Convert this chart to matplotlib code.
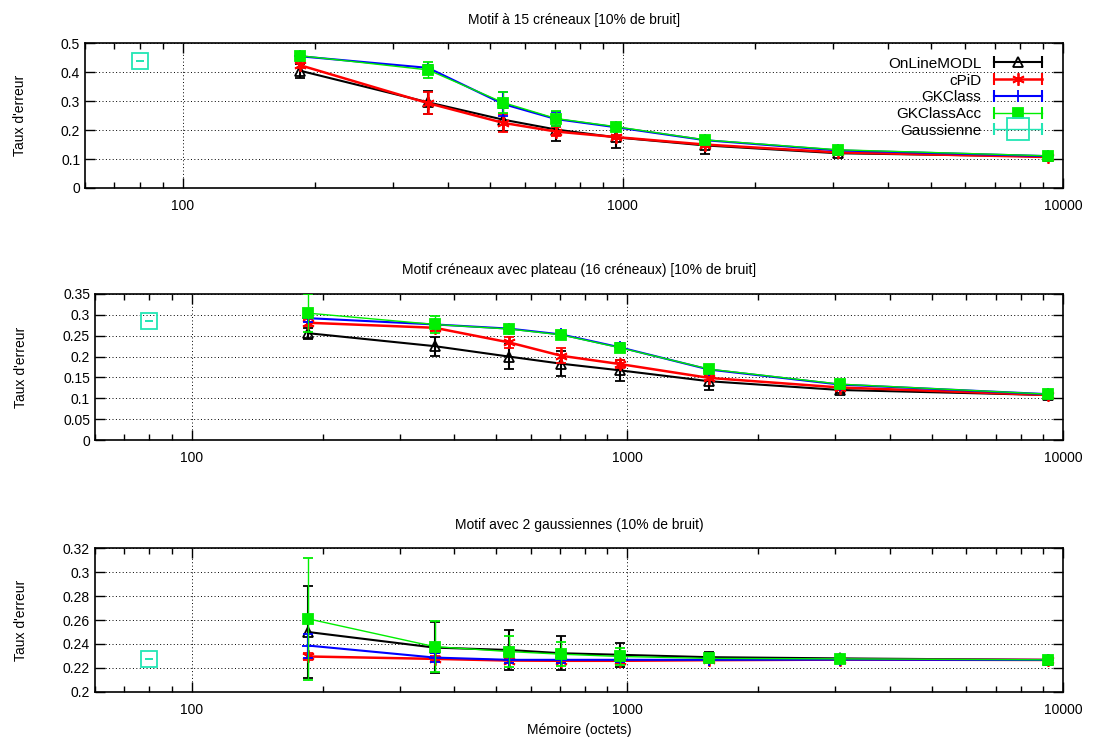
import matplotlib
matplotlib.use('Agg')
import matplotlib.pyplot as plt
from matplotlib.lines import Line2D
from matplotlib.legend_handler import HandlerLine2D, HandlerTuple
from matplotlib.ticker import FuncFormatter, LogLocator, MultipleLocator

plt.rcParams['font.family'] = ['Liberation Sans', 'DejaVu Sans']
plt.rcParams['font.size'] = 10

# memory sizes (octets)
mem = [185, 361, 535, 705, 963, 1540, 3080, 9260]
gauss_mem = [80]

# panel 1: Motif a 15 creneaux
p1_online = [0.405, 0.296, 0.236, 0.202, 0.175, 0.147, 0.120, 0.109]
p1_online_err = [0.025, 0.040, 0.040, 0.040, 0.038, 0.028, 0.006, 0.004]
p1_cpid = [0.424, 0.293, 0.225, 0.195, 0.176, 0.150, 0.123, 0.107]
p1_cpid_err = [0.010, 0.037, 0.030, 0.015, 0.008, 0.006, 0.005, 0.003]
p1_gk = [0.455, 0.415, 0.290, 0.238, 0.210, 0.165, 0.130, 0.110]
p1_gk_err = [0.005, 0.010, 0.040, 0.025, 0.008, 0.005, 0.004, 0.003]
p1_gkacc = [0.457, 0.408, 0.295, 0.240, 0.212, 0.166, 0.132, 0.111]
p1_gkacc_err = [0.006, 0.027, 0.035, 0.025, 0.008, 0.005, 0.004, 0.003]
p1_gauss = [0.44]

# panel 2: Motif creneaux avec plateau
p2_online = [0.256, 0.225, 0.200, 0.183, 0.167, 0.141, 0.120, 0.108]
p2_online_err = [0.013, 0.023, 0.029, 0.030, 0.025, 0.021, 0.006, 0.003]
p2_cpid = [0.281, 0.269, 0.234, 0.202, 0.182, 0.149, 0.126, 0.108]
p2_cpid_err = [0.008, 0.008, 0.013, 0.018, 0.010, 0.006, 0.004, 0.003]
p2_gk = [0.292, 0.277, 0.267, 0.253, 0.222, 0.169, 0.133, 0.110]
p2_gk_err = [0.010, 0.008, 0.008, 0.008, 0.010, 0.005, 0.004, 0.003]
p2_gkacc = [0.304, 0.277, 0.266, 0.252, 0.221, 0.170, 0.134, 0.110]
p2_gkacc_err = [0.045, 0.020, 0.010, 0.008, 0.010, 0.005, 0.004, 0.003]
p2_gauss = [0.284]

# panel 3: Motif avec 2 gaussiennes
p3_online = [0.250, 0.237, 0.235, 0.2323, 0.231, 0.229, 0.228, 0.2267]
p3_online_err = [0.038, 0.021, 0.017, 0.014, 0.010, 0.004, 0.002, 0.001]
p3_cpid = [0.2296, 0.2276, 0.2262, 0.226, 0.226, 0.2265, 0.227, 0.2267]
p3_cpid_err = [0.003, 0.002, 0.002, 0.002, 0.002, 0.002, 0.001, 0.001]
p3_gk = [0.2387, 0.2287, 0.2268, 0.2268, 0.2268, 0.2268, 0.227, 0.2267]
p3_gk_err = [0.010, 0.004, 0.003, 0.003, 0.002, 0.002, 0.001, 0.001]
p3_gkacc = [0.261, 0.2378, 0.2337, 0.2315, 0.2296, 0.228, 0.2276, 0.2268]
p3_gkacc_err = [0.051, 0.021, 0.013, 0.010, 0.007, 0.003, 0.001, 0.001]
p3_gauss = [0.2276]

titles = ['Motif à 15 créneaux [10% de bruit]',
          'Motif créneaux avec plateau (16 créneaux) [10% de bruit]',
          'Motif avec 2 gaussiennes (10% de bruit)']

labels = ['OnLineMODL', 'cPiD', 'GKClass', 'GKClassAcc', 'Gaussienne']
colors = ['black', '#ff0000', '#0000ff', '#00ee00', '#22e6b4']
markers = ['^', (6, 2, 0), '+', 's', 's']
mfcs = ['none', '#ff0000', '#0000ff', '#00ee00', 'none']
msizes = [7, 9, 8, 7.5, 11]
lws = [1.5, 1.8, 1.5, 1.0, 1.0]

panels = [
    (p1_online, p1_online_err, p1_cpid, p1_cpid_err, p1_gk, p1_gk_err,
     p1_gkacc, p1_gkacc_err, p1_gauss),
    (p2_online, p2_online_err, p2_cpid, p2_cpid_err, p2_gk, p2_gk_err,
     p2_gkacc, p2_gkacc_err, p2_gauss),
    (p3_online, p3_online_err, p3_cpid, p3_cpid_err, p3_gk, p3_gk_err,
     p3_gkacc, p3_gkacc_err, p3_gauss),
]
ylims = [(0, 0.5), (0, 0.35), (0.2, 0.32)]
ysteps = [0.1, 0.05, 0.02]
boxes = [[0.0777, 0.748, 0.8940, 0.194],
         [0.0868, 0.410, 0.8849, 0.196],
         [0.0868, 0.0724, 0.8849, 0.193]]

fig = plt.figure(figsize=(10.94, 7.46), dpi=100)

for k, data in enumerate(panels):
    ax = fig.add_axes(boxes[k])
    series = [(data[0], data[1]), (data[2], data[3]), (data[4], data[5]), (data[6], data[7])]
    for i, (y, e) in enumerate(series):
        ax.errorbar(mem, y, yerr=e, color=colors[i], lw=lws[i], marker=markers[i],
                    ms=msizes[i], mfc=mfcs[i], mec=colors[i], mew=1.3,
                    elinewidth=lws[i], capsize=3.5, capthick=lws[i], zorder=3 + i)
    ax.errorbar(gauss_mem, data[8], yerr=[0.0], color=colors[4], lw=1.0, marker='s',
                ms=msizes[4], mfc='none', mec=colors[4], mew=1.3, elinewidth=1.2,
                capsize=3, capthick=1.6, zorder=8)

    ax.set_xscale('log')
    ax.set_xlim(60, 10000)
    ax.set_ylim(*ylims[k])
    ax.yaxis.set_major_locator(MultipleLocator(ysteps[k]))
    ax.yaxis.set_major_formatter(FuncFormatter(lambda v, p: '%g' % round(v, 3)))
    ax.xaxis.set_major_locator(LogLocator(base=10, numticks=10))
    ax.xaxis.set_minor_locator(LogLocator(base=10, subs=range(2, 10), numticks=20))
    ax.xaxis.set_major_formatter(FuncFormatter(lambda v, p: '%d' % v))
    ax.tick_params(which='both', direction='in', top=True, right=True, labelsize=10)
    ax.tick_params(which='major', length=7, width=1.0)
    ax.tick_params(which='minor', length=4.5, width=1.0)
    ax.tick_params(axis='x', pad=8)
    ax.grid(True, which='major', color='black', linestyle=(0, (1, 2.5)), lw=0.7)
    for s in ax.spines.values():
        s.set_linewidth(1.2)
    ax.set_title(titles[k], fontsize=10, pad=14)
    ax.set_ylabel("Taux d'erreur", fontsize=10)
    ax.yaxis.set_label_coords(-0.059 if k == 0 else -0.069, 0.5)

    if k == 0:
        handles = []
        hmap = {}
        for i in range(5):
            ends = Line2D([], [], color=colors[i], lw=lws[i] if i < 4 else 1.0,
                          marker='|', ms=8, mew=1.5)
            mk = Line2D([], [], color=colors[i], ls='none', marker=markers[i],
                        ms=msizes[i] if i < 4 else 16, mfc=mfcs[i], mec=colors[i], mew=1.3)
            hmap[ends] = HandlerLine2D(numpoints=2)
            hmap[mk] = HandlerLine2D(numpoints=1)
            handles.append((ends, mk))
        hmap[tuple] = HandlerTuple(ndivide=1)
        ax.legend(handles, labels, handler_map=hmap, loc='upper right',
                  bbox_to_anchor=(0.993, 0.97), frameon=False, markerfirst=False,
                  handlelength=3.8, labelspacing=0.18, handletextpad=0.5,
                  fontsize=11, borderaxespad=0.2)

ax.set_xlabel('Mémoire (octets)', fontsize=10)

fig.savefig('out.png', dpi=100)
